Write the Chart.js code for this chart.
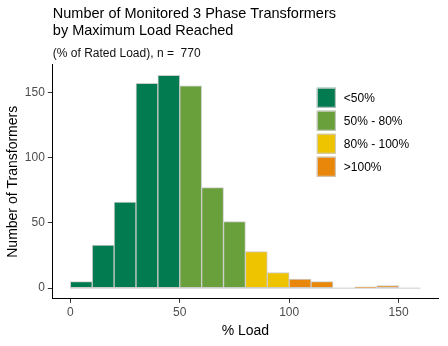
<!DOCTYPE html>
<html>
<head>
<meta charset="utf-8">
<script src="https://cdn.jsdelivr.net/npm/chart.js@4.4.1/dist/chart.umd.min.js"></script>
<style>
  html, body { margin: 0; padding: 0; background: #fff; }
  #wrap { width: 448px; height: 346px; }
</style>
</head>
<body>
<div id="wrap"><canvas id="loadChart"></canvas></div>
<script>
// histogram bins (start of each 10% bin) and counts
const binStarts = [0, 10, 20, 30, 40, 50, 60, 70, 80, 90, 100, 110, 120, 130, 140, 150];
const counts    = [5, 33, 66, 157, 163, 155, 77, 51, 28, 12, 7, 5, 0, 1, 2, 0];
const binClass  = [0, 0, 0, 0, 0, 1, 1, 1, 2, 2, 3, 3, 3, 3, 3, 3];

const classLabels = ["<50%", "50% - 80%", "80% - 100%", ">100%"];
const classColors = ["#027B50", "#6AA03B", "#EEC300", "#E9870A"];

const xTicks = [0, 50, 100, 150];
const yTicks = [0, 50, 100, 150];

const fontFamily = "'Liberation Sans', Arial, sans-serif";

const datasets = classLabels.map((label, i) => ({
  label: label,
  data: binStarts
    .map((b, j) => ({ x: b + 5, y: counts[j] }))
    .filter((_, j) => binClass[j] === i && counts[j] > 0),
  backgroundColor: classColors[i],
  borderColor: "#CCCCCC",
  borderWidth: 1,
  borderSkipped: false,
  grouped: false,
  barPercentage: 1,
  categoryPercentage: 1,
}));

// grey outline along the baseline (empty bins)
const baseLine = {
  id: "baseLine",
  beforeDatasetsDraw(chart) {
    const { ctx, scales: { x, y } } = chart;
    const y0 = y.getPixelForValue(0);
    ctx.save();
    ctx.strokeStyle = "#CCCCCC";
    ctx.lineWidth = 1;
    ctx.beginPath();
    ctx.moveTo(x.getPixelForValue(binStarts[0]), y0);
    ctx.lineTo(x.getPixelForValue(binStarts[binStarts.length - 1] + 10), y0);
    ctx.stroke();
    ctx.restore();
  },
};

// legend inside the plot area, top right
const boxLegend = {
  id: "boxLegend",
  afterDraw(chart) {
    const { ctx, chartArea } = chart;
    const left = chartArea.left + 264;
    const top = chartArea.top + 23;
    ctx.save();
    ctx.font = "12px " + fontFamily;
    ctx.textBaseline = "middle";
    classLabels.forEach((label, i) => {
      const y = top + i * 23;
      ctx.fillStyle = classColors[i];
      ctx.fillRect(left, y, 19, 20);
      ctx.strokeStyle = "#CCCCCC";
      ctx.lineWidth = 1;
      ctx.strokeRect(left + 0.5, y + 0.5, 18, 19);
      ctx.fillStyle = "#000";
      ctx.fillText(label, left + 27, y + 10.5);
    });
    ctx.restore();
  },
};

new Chart(document.getElementById("loadChart"), {
  type: "bar",
  data: { datasets: datasets },
  options: {
    responsive: true,
    maintainAspectRatio: false,
    animation: false,
    layout: { padding: { left: 5, right: 10, top: 0, bottom: 6 } },
    plugins: {
      legend: { display: false },
      tooltip: { enabled: false },
      title: {
        display: true,
        fullSize: false,
        align: "start",
        text: ["Number of Monitored 3 Phase Transformers", "by Maximum Load Reached"],
        color: "#000",
        font: { family: fontFamily, size: 14.5, weight: "normal", lineHeight: 1.15 },
        padding: { top: 6, bottom: 7 },
      },
      subtitle: {
        display: true,
        fullSize: false,
        align: "start",
        text: "(% of Rated Load), n =  770",
        color: "#111",
        font: { family: fontFamily, size: 12, weight: "normal", lineHeight: 1.2 },
        padding: { top: 0, bottom: 4 },
      },
    },
    scales: {
      x: {
        type: "linear",
        min: -8,
        max: 168,
        offset: false,
        afterBuildTicks: (s) => { s.ticks = xTicks.map((v) => ({ value: v })); },
        grid: { display: true, offset: false, drawOnChartArea: false, drawTicks: true, tickLength: 4, color: "#333" },
        border: { display: true, color: "#000", width: 1 },
        ticks: { color: "#4D4D4D", padding: 3, font: { family: fontFamily, size: 12 } },
        title: {
          display: true,
          text: "% Load",
          color: "#000",
          font: { family: fontFamily, size: 14 },
          padding: { top: 0, bottom: 0 },
        },
      },
      y: {
        type: "linear",
        min: -8.15,
        max: 171.15,
        afterBuildTicks: (s) => { s.ticks = yTicks.map((v) => ({ value: v })); },
        grid: { display: true, drawOnChartArea: false, drawTicks: true, tickLength: 5, color: "#333" },
        border: { display: true, color: "#000", width: 1 },
        ticks: { color: "#4D4D4D", padding: 3, font: { family: fontFamily, size: 12 } },
        title: {
          display: true,
          text: "Number of Transformers",
          color: "#000",
          font: { family: fontFamily, size: 14 },
          padding: { top: 0, bottom: 0 },
        },
      },
    },
  },
  plugins: [baseLine, boxLegend],
});
</script>
</body>
</html>
